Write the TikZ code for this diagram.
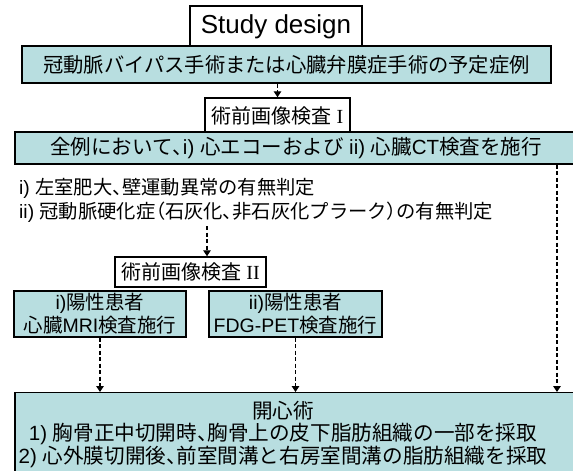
\documentclass[tikz,border=0pt]{standalone}
\usepackage{fontspec}
\setmainfont{Noto Sans CJK JP}
\newfontfamily\jpp[RawFeature=+palt]{Noto Sans CJK JP}
\newfontfamily\lat{Liberation Sans}
\newfontfamily\serifr{Liberation Serif}
\newcommand{\hp}[1]{{\jpp #1}}
\usetikzlibrary{arrows.meta}
\definecolor{teal1}{HTML}{B8DEE0}
\begin{document}
\begin{tikzpicture}[x=1pt,y=-1pt,
  tbox/.style={draw=black, line width=1.4pt, fill=teal1, inner sep=0pt, font=\fontsize{20.5}{23}\selectfont},
  wbox/.style={tbox, fill=white},
  txt/.style={inner sep=0pt, font=\fontsize{20.6}{23}\selectfont},
  ltxt/.style={inner sep=0pt, font=\fontsize{19.3}{23}\selectfont},
  darr/.style={draw, line width=1.3pt, dash pattern=on 4pt off 2.5pt, -{Triangle[length=6pt,width=7.5pt]}}]
\useasboundingbox (0,0) rectangle (573,471);
\clip (0,0) rectangle (573,471);
\fill[white] (0,0) rectangle (573,471);

\node[wbox, minimum width=172, minimum height=41, font=\lat\fontsize{26}{30}\selectfont] (study) at (276,26.5) {Study design};
\node[tbox, minimum width=529, minimum height=37, font=\fontsize{20.3}{23}\selectfont] (pre) at (286.5,64.5) {冠動脈バイパス手術または心臓弁膜症手術の予定症例};

\node[wbox, minimum width=145, minimum height=35, font=\fontsize{20}{23}\selectfont] (imgA) at (277.5,115.5) {術前画像検査{\serifr\ I}};
\node[tbox, minimum width=562, minimum height=32] (all) at (296,148) {全例において\hp{、}{\lat i) }心エコーおよび{\lat\ ii) }心臓{\lat CT}検査を施行};

\node[ltxt, anchor=west] (l1) at (19,188) {{\lat i) }左室肥大\hp{、}壁運動異常の有無判定};
\node[ltxt, anchor=west] (l2) at (19,212) {{\lat ii) }冠動脈硬化症\hp{（}石灰化\hp{、}非石灰化プラーク\hp{）}の有無判定};

\node[wbox, minimum width=151, minimum height=30, font=\fontsize{20}{23}\selectfont] (imgB) at (190.5,272) {術前画像検査{\serifr\ II}};

\node[tbox, minimum width=172, minimum height=46, align=center, font=\fontsize{19.5}{23}\selectfont] (pos1) at (100,314) {{\lat i)}陽性患者\\心臓{\lat MRI}検査施行};
\node[tbox, minimum width=173, minimum height=46, align=center, font=\fontsize{19.5}{23}\selectfont] (pos2) at (295.5,314) {{\lat ii)}陽性患者\\{\lat FDG-PET}検査施行};

\node[tbox, minimum width=562, minimum height=90, anchor=north] (op) at (296,392) {};
\node[txt] (op1) at (283,411) {開心術};
\node[txt] (op2) at (283,434) {{\lat 1) }胸骨正中切開時\hp{、}胸骨上の皮下脂肪組織の一部を採取};
\node[txt] (op3) at (283,457) {{\lat 2) }心外膜切開後\hp{、}前室間溝と右房室間溝の脂肪組織を採取};

\coordinate (mid) at (207,226);
\coordinate (rt) at (557,0);
\draw[darr] (pre.south -| imgA.north) -- (imgA.north);
\draw[darr] (mid) -- (mid |- imgB.north);
\draw[darr] (all.south -| rt) -- (op.north -| rt);
\draw[darr] (pos1.south) -- (pos1.south |- op.north);
\draw[darr] (pos2.south) -- (pos2.south |- op.north);
\end{tikzpicture}
\end{document}
